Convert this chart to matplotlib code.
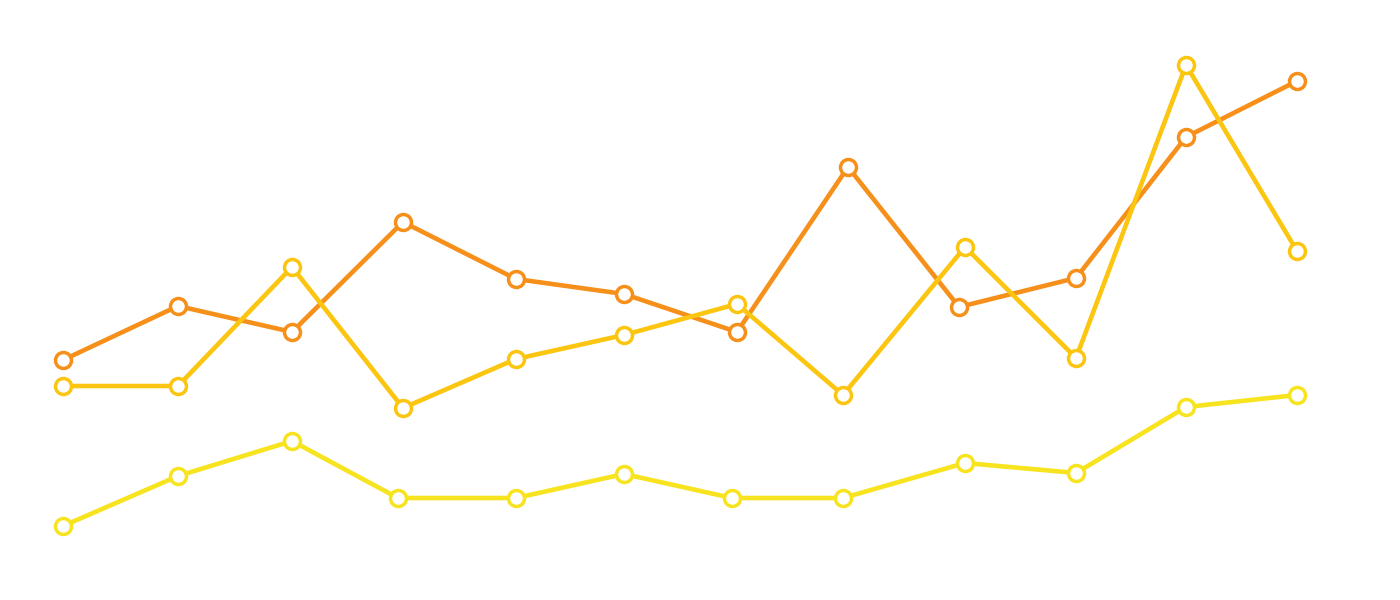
import matplotlib
matplotlib.use("Agg")
import matplotlib.pyplot as plt

# x positions (horizontal units) and values
orange_x = [63, 178, 292, 403, 516, 624, 737, 848, 959, 1076, 1186, 1297]
orange_y = [240, 294, 268, 378, 321, 306, 268, 433, 293, 322, 463, 519]

gold_x = [63, 178, 292, 403, 516, 624, 737, 843, 965, 1076, 1186, 1297]
gold_y = [214, 214, 333, 192, 241, 265, 296, 205, 353, 242, 535, 349]

yellow_x = [63, 178, 292, 398, 516, 624, 732, 843, 965, 1076, 1186, 1297]
yellow_y = [74, 124, 159, 102, 102, 126, 102, 102, 137, 127, 193, 205]

series = [
    (yellow_x, yellow_y, "#F7E31E"),
    (orange_x, orange_y, "#F6901A"),
    (gold_x, gold_y, "#FBC510"),
]

fig = plt.figure(figsize=(14, 6), dpi=100)
ax = fig.add_axes([0, 0, 1, 1])
for xs, ys, c in series:
    ax.plot(xs, ys, color=c, linewidth=3.3, marker="o", markersize=11.5,
            markerfacecolor="white", markeredgecolor=c, markeredgewidth=2.5,
            solid_joinstyle="round")
ax.set_xlim(0, 1400)
ax.set_ylim(0, 600)
ax.axis("off")
fig.savefig("out.png", dpi=100, facecolor="white")
